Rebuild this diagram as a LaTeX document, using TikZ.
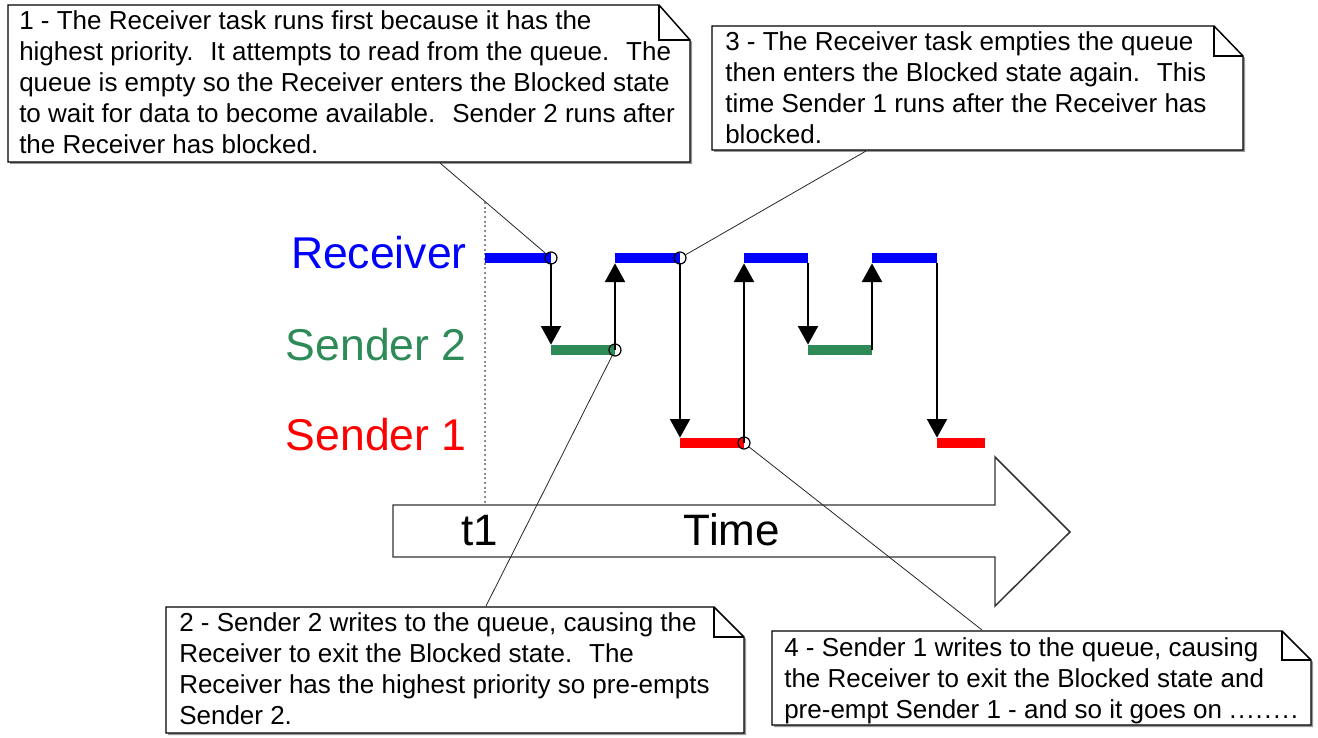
\documentclass[tikz,border=0pt]{standalone}
\usepackage{fontspec}
\setmainfont{Liberation Sans}
\usetikzlibrary{arrows.meta}
\definecolor{rxblue}{RGB}{0,0,255}
\definecolor{sgreen}{RGB}{46,139,87}
\definecolor{sred}{RGB}{255,0,0}
\newcommand{\noteshape}[6]{%
  \fill[black!40] ({#1+2},{#2+2}) -- ({#3-#5+2},{#2+2}) -- ({#3+2},{#2+#6+2}) -- ({#3+2},{#4+2}) -- ({#1+2},{#4+2}) -- cycle;
  \draw[noteline] (#1,#2) -- ({#3-#5},#2) -- (#3,{#2+#6}) -- (#3,#4) -- (#1,#4) -- cycle;
  \draw[foldline] ({#3-#5},#2) -- ({#3-#5},{#2+#6}) -- (#3,{#2+#6});
}
\newcommand{\spdot}{.\hspace{0.06em}}
\begin{document}
\begin{tikzpicture}[x=0.75pt,y=-0.75pt,
  noteline/.style={draw=black, fill=white, line width=1.1pt, line join=miter},
  foldline/.style={draw=black, line width=1.6pt},
  notetext/.style={anchor=north west, align=left, inner sep=0pt, font=\fontsize{19.5}{23.25}\selectfont},
  lanelabel/.style={anchor=base east, inner sep=0pt, font=\fontsize{33.4}{38}\selectfont},
  bigtext/.style={anchor=base, inner sep=0pt, font=\fontsize{33}{38}\selectfont},
  bar/.style={line width=8pt},
  trans/.style={-{Triangle[width=15pt,length=14pt]}, line width=1.5pt},
  marker/.style={circle, draw=black, line width=0.9pt, minimum size=9pt, inner sep=0pt},
  leader/.style={draw=black!85, line width=0.6pt},
  timearrow/.style={draw=black!80, fill=white, line width=1.1pt, line join=miter}]
\useasboundingbox (0,0) rectangle (1318,738);

% lane labels
\node[lanelabel, text=rxblue] (lrx) at (467,268) {Receiver};
\node[lanelabel, text=sgreen] (ls2) at (467,360) {Sender 2};
\node[lanelabel, text=sred] (ls1) at (467,450) {Sender 1};

% t1 dotted marker
\coordinate (t1top) at (485,202);
\coordinate (t1bot) at (485,505);
\draw[black!45, dotted, line width=1.5pt] (t1top) -- (t1bot);

% time arrow
\draw[timearrow] (393,505) -- (995,505) -- (995,457) -- (1070,532) -- (995,606) -- (995,557) -- (393,557) -- cycle;
\node[bigtext] (t1) at (480,545) {t1};
\node[bigtext] (time) at (732,545) {Time};

% bar end points
\coordinate (r1a) at (485,258); \coordinate (r1b) at (551,258);
\coordinate (g1a) at (551,350); \coordinate (g1b) at (615,350);
\coordinate (r2a) at (615,258); \coordinate (r2b) at (680,258);
\coordinate (s1a) at (680,443); \coordinate (s1b) at (744,443);
\coordinate (r3a) at (744,258); \coordinate (r3b) at (808,258);
\coordinate (g2a) at (808,350); \coordinate (g2b) at (872,350);
\coordinate (r4a) at (872,258); \coordinate (r4b) at (937,258);
\coordinate (s2a) at (937,443); \coordinate (s2b) at (985,443);

% bars
\draw[bar, rxblue] (r1a) -- (r1b);
\draw[bar, rxblue] (r2a) -- (r2b);
\draw[bar, rxblue] (r3a) -- (r3b);
\draw[bar, rxblue] (r4a) -- (r4b);
\draw[bar, sgreen] (g1a) -- (g1b);
\draw[bar, sgreen] (g2a) -- (g2b);
\draw[bar, sred] (s1a) -- (s1b);
\draw[bar, sred] (s2a) -- (s2b);

% transitions
\draw[trans] ([yshift=-4pt]r1b) -- ([yshift=4pt]g1a);
\draw[trans] (g1b) -- ([yshift=-4pt]r2a);
\draw[trans] ([yshift=-4pt]r2b) -- ([yshift=4pt]s1a);
\draw[trans] (s1b) -- ([yshift=-4pt]r3a);
\draw[trans] ([yshift=-4pt]r3b) -- ([yshift=4pt]g2a);
\draw[trans] (g2b) -- ([yshift=-4pt]r4a);
\draw[trans] ([yshift=-4pt]r4b) -- ([yshift=4pt]s2a);

% event markers
\node[marker] (c1) at (r1b) {};
\node[marker] (c2) at (g1b) {};
\node[marker] (c3) at (r2b) {};
\node[marker] (c4) at (s1b) {};

% notes
\noteshape{8}{5}{690}{162}{31}{35}
\node[notetext] (n1) at (19,10) {1 - The Receiver task runs first because it has the\\
highest priority.~ It attempts to read from the queue.~ The\\
queue is empty so the Receiver enters the Blocked state\\
to wait for data to become available.~ Sender 2 runs after\\
the Receiver has blocked.};

\noteshape{712}{26}{1243}{150}{29}{30}
\node[notetext] (n3) at (725,31) {3 - The Receiver task empties the queue\\
then enters the Blocked state again.~ This\\
time Sender 1 runs after the Receiver has\\
blocked.};

\noteshape{166}{607}{744}{733}{30}{30}
\node[notetext] (n2) at (179,612) {2 - Sender 2 writes to the queue, causing the\\
Receiver to exit the Blocked state.~ The\\
Receiver has the highest priority so pre-empts\\
Sender 2.};

\noteshape{772}{631}{1311}{725}{29}{29}
\node[notetext] (n4) at (784,637) {4 - Sender 1 writes to the queue, causing\\
the Receiver to exit the Blocked state and\\
pre-empt Sender 1 - and so it goes on \spdot\spdot\spdot\spdot\spdot\spdot\spdot.};

% leaders
\coordinate (p1) at (440,163);
\coordinate (p3) at (866,151);
\coordinate (p2) at (486,606);
\coordinate (p4) at (982,630);
\draw[leader] (p1) -- (c1);
\draw[leader] (p3) -- (c3);
\draw[leader] (c2) -- (p2);
\draw[leader] (c4) -- (p4);
\end{tikzpicture}
\end{document}
